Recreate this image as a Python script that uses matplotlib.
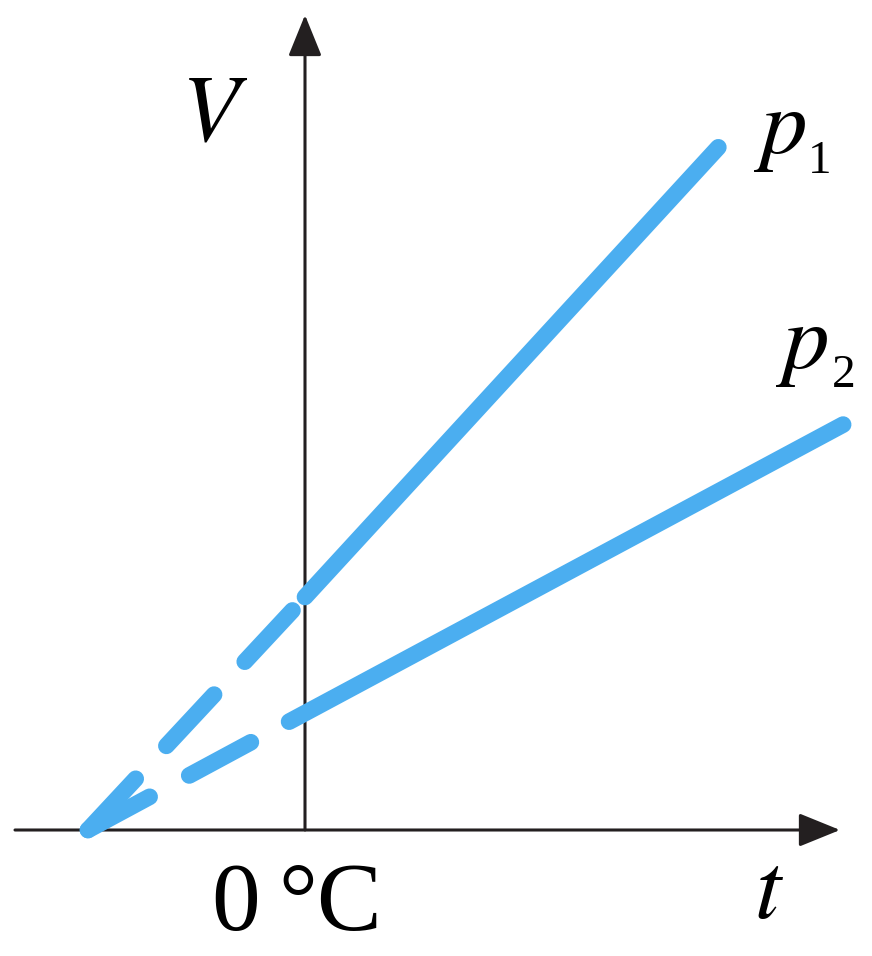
import matplotlib
matplotlib.use("Agg")
import matplotlib.pyplot as plt

plt.rcParams["mathtext.fontset"] = "stix"

# t in deg C, V in arbitrary units
t_zero = -273.0
p1_t = [t_zero, 0.0, 520.0]
p1_V = [0.0, 2.0, 5.86]
p2_t = [t_zero, -20.0, 677.0]
p2_V = [0.0, 0.93, 3.48]

W, H = 872, 956
px_per_deg = 217.0 / 273.0
px_per_V = 116.5
x0_px, y0_px = 305.0, 830.0

blue = "#4baef0"
serif = ["Liberation Serif", "DejaVu Serif"]

fig = plt.figure(figsize=(W / 100, H / 100), dpi=100)
ax = fig.add_axes([0, 0, 1, 1])
ax.set_xlim(-x0_px / px_per_deg, (W - x0_px) / px_per_deg)
ax.set_ylim(-(H - y0_px) / px_per_V, y0_px / px_per_V)
ax.axis("off")

def px(x, y):
    # pixel position -> axes fraction
    return x / W, 1 - y / H

# axes with arrows
arrow = dict(arrowstyle="-|>,head_length=1.6,head_width=0.65", lw=2.2,
             color="#231f20", shrinkA=0, shrinkB=0, mutation_scale=16)
ax.annotate("", xy=((840 - x0_px) / px_per_deg, 0),
            xytext=((15 - x0_px) / px_per_deg, 0), arrowprops=arrow)
ax.annotate("", xy=(0, (y0_px - 15) / px_per_V), xytext=(0, 0), arrowprops=arrow)

lw = 12
dash = (0, (4.2, 2.7))
for tt, vv in [(p1_t, p1_V), (p2_t, p2_V)]:
    ax.plot(tt[:2], vv[:2], color=blue, lw=lw, linestyle=dash,
            dash_capstyle="round", zorder=3)
    ax.plot(tt[1:], vv[1:], color=blue, lw=lw, solid_capstyle="round", zorder=3)

tr = ax.transAxes
ax.text(*px(215, 140), "$V$", transform=tr, fontsize=68, ha="center", va="baseline")
ax.text(*px(780, 153), "$p$", transform=tr, fontsize=67, ha="center", va="baseline")
ax.text(*px(820, 173), "1", transform=tr, family=serif,
        fontsize=34, ha="center", va="baseline")
ax.text(*px(802, 368), "$p$", transform=tr, fontsize=67, ha="center", va="baseline")
ax.text(*px(844, 387), "2", transform=tr, family=serif,
        fontsize=34, ha="center", va="baseline")
ax.text(*px(769, 918), "$t$", transform=tr, fontsize=68, ha="center", va="baseline")
ax.text(*px(236, 930), "0", transform=tr, family=serif,
        fontsize=70, ha="center", va="baseline")
ax.text(*px(330, 930), "\u00b0C", transform=tr, family=serif,
        fontsize=70, ha="center", va="baseline")

fig.savefig("out.png", dpi=100)
